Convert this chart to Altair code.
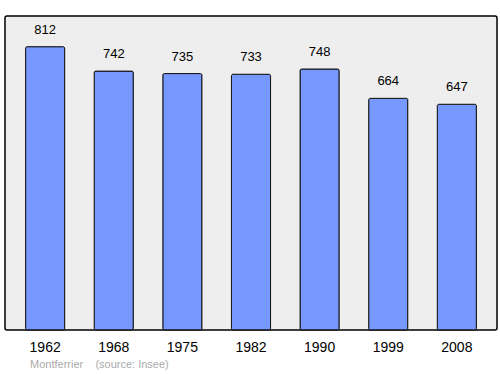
import altair as alt
import pandas as pd

years = ["1962", "1968", "1975", "1982", "1990", "1999", "2008"]
population = [812, 742, 735, 733, 748, 664, 647]

df = pd.DataFrame({"year": years, "pop": population})

x = alt.X("year:N", sort=years,
          scale=alt.Scale(paddingInner=0.43, paddingOuter=0.3),
          axis=alt.Axis(title=None, labelAngle=0, ticks=False, domain=False,
                        labelFontSize=14, labelColor="#000000", labelPadding=10,
                        labelFont="Liberation Sans"))
y = alt.Y("pop:Q", scale=alt.Scale(domain=[0, 900], nice=False, zero=True),
          axis=None)

bars = alt.Chart(df).mark_bar(color="#7799ff", stroke="#111111", strokeWidth=1,
                              cornerRadius=1.5).encode(x=x, y=y)
labels = alt.Chart(df).mark_text(dy=-10, baseline="bottom", fontSize=13,
                                 font="Liberation Sans", color="#000000").encode(
    x=alt.X("year:N", sort=years), y="pop:Q", text="pop:Q")

footer = "Montferrier\u00a0\u00a0\u00a0\u00a0(source: Insee)"

chart = (bars + labels).properties(
    width=492, height=314,
    background="#ffffff",
    autosize=alt.AutoSizeParams(type="none"),
    padding={"left": 5, "top": 16, "right": 3, "bottom": 44},
    title=alt.TitleParams(footer, orient="bottom",
                          anchor="start", dx=25, offset=5, fontSize=11,
                          fontWeight="normal", color="#aaaaaa",
                          font="Liberation Sans"),
).configure_view(fill="#eeeeee", stroke="#000000", strokeWidth=1.5, cornerRadius=2)

chart.save("out.html", embed_options={"renderer": "svg", "actions": False})
